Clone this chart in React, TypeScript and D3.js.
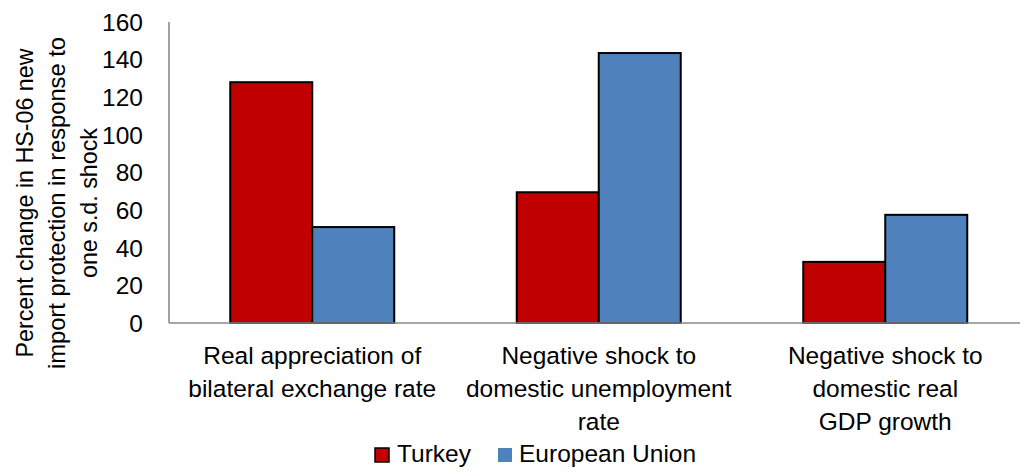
import { useEffect, useRef } from "react";
import * as d3 from "d3";

const categories = [
  ["Real appreciation of", "bilateral exchange rate"],
  ["Negative shock to", "domestic unemployment", "rate"],
  ["Negative shock to", "domestic real", "GDP growth"],
];
const seriesNames = ["Turkey", "European Union"];
const turkey = [128, 69.5, 32.5];
const europeanUnion = [51, 143.5, 57.5];
const yTicks = [0, 20, 40, 60, 80, 100, 120, 140, 160];
const yTitle = [
  "Percent change in HS-06 new",
  "import protection in response to",
  "one s.d. shock",
];
// widths the title lines take in the reference (narrower font there)
const yTitleWidths = [309, 332, 150];

const colors = ["#C00000", "#4F81BD"];
const W = 1020,
  H = 472;
const left = 169,
  top = 22,
  bottom = 323,
  step = 286.5;
const font = "'Liberation Sans', Arial, sans-serif";

export default function App() {
  const ref = useRef<SVGSVGElement>(null);

  useEffect(() => {
    const svg = d3.select(ref.current);
    svg.selectAll("*").remove();

    const keys = categories.map((_, i) => String(i));
    const x = d3
      .scaleBand()
      .domain(keys)
      .range([left, left + step * keys.length])
      .paddingInner(0.4276)
      .paddingOuter(0.2138);
    const xs = d3
      .scaleBand()
      .domain(seriesNames)
      .range([0, x.bandwidth()]);
    const y = d3.scaleLinear().domain([0, 160]).range([bottom, top]);

    const rows = keys.map((k, i) => ({
      k,
      vals: [turkey[i], europeanUnion[i]],
    }));

    // bars
    const g = svg.append("g");
    rows.forEach((r) => {
      r.vals.forEach((v, j) => {
        g.append("rect")
          .attr("x", (x(r.k) ?? 0) + (xs(seriesNames[j]) ?? 0))
          .attr("y", y(v))
          .attr("width", xs.bandwidth())
          .attr("height", y(0) - y(v))
          .attr("fill", colors[j])
          .attr("stroke", "#000")
          .attr("stroke-width", 2);
      });
    });

    // axes
    svg
      .append("line")
      .attr("x1", left)
      .attr("x2", W)
      .attr("y1", y(0))
      .attr("y2", y(0))
      .attr("stroke", "#888")
      .attr("stroke-width", 1.5);
    svg
      .append("line")
      .attr("x1", left)
      .attr("x2", left)
      .attr("y1", y(160))
      .attr("y2", y(0))
      .attr("stroke", "#666")
      .attr("stroke-width", 1.2);

    svg
      .selectAll(".ytick")
      .data(yTicks)
      .enter()
      .append("text")
      .attr("class", "ytick")
      .attr("x", 143)
      .attr("y", (d) => y(d))
      .attr("dy", "0.36em")
      .attr("text-anchor", "end")
      .attr("font-size", 24.5)
      .attr("font-family", font)
      .attr("fill", "#000")
      .text((d) => d);

    // category labels
    rows.forEach((r, i) => {
      const cx = (x(r.k) ?? 0) + x.bandwidth() / 2;
      categories[i].forEach((line, li) => {
        svg
          .append("text")
          .attr("x", cx)
          .attr("y", 364 + li * 33)
          .attr("text-anchor", "middle")
          .attr("font-size", 24.5)
          .attr("font-family", font)
          .text(line);
      });
    });

    // y title
    yTitle.forEach((line, i) => {
      svg
        .append("text")
        .attr("transform", `translate(${33 + i * 32},${203}) rotate(-90)`)
        .attr("text-anchor", "middle")
        .attr("font-size", 24.5)
        .attr("font-family", font)
        .attr("textLength", yTitleWidths[i])
        .attr("lengthAdjust", "spacingAndGlyphs")
        .text(line);
    });

    // legend
    const legend = [
      { name: seriesNames[0], sx: 375, tx: 397, stroke: "#000" },
      { name: seriesNames[1], sx: 498, tx: 519, stroke: "none" },
    ];
    legend.forEach((l, i) => {
      svg
        .append("rect")
        .attr("x", l.sx)
        .attr("y", 448)
        .attr("width", 14)
        .attr("height", 14)
        .attr("fill", colors[i])
        .attr("stroke", l.stroke)
        .attr("stroke-width", 1.5);
      svg
        .append("text")
        .attr("x", l.tx)
        .attr("y", 462)
        .attr("font-size", 24.5)
        .attr("font-family", font)
        .text(l.name);
    });
  }, []);

  return (
    <div style={{ position: "absolute", left: 0, top: 0 }}>
      <svg ref={ref} width={W} height={H} style={{ display: "block", background: "#fff" }} />
    </div>
  );
}
